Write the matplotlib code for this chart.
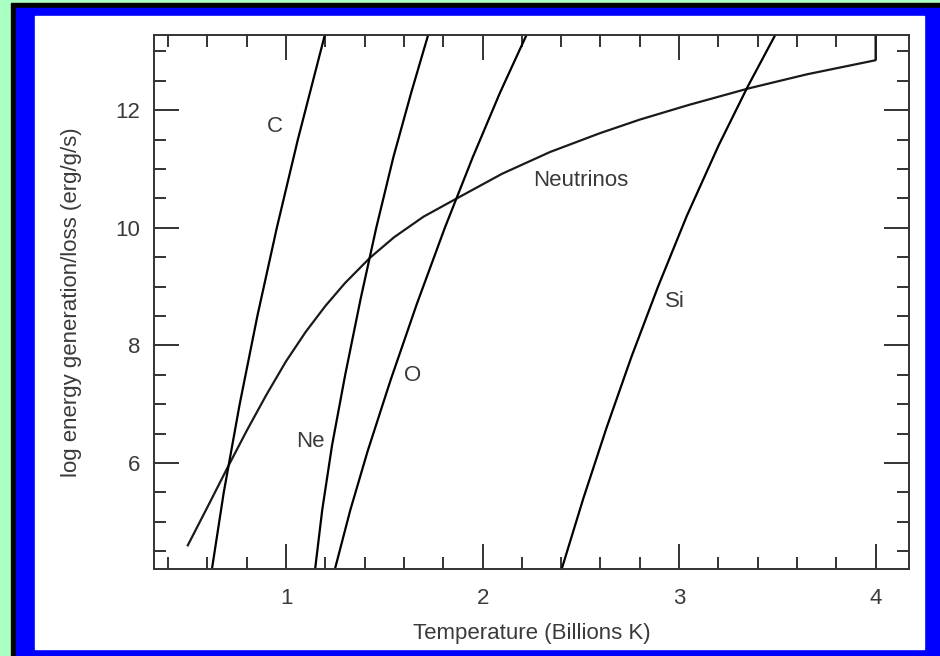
import matplotlib.pyplot as plt
from matplotlib.patches import Rectangle
from matplotlib.ticker import MultipleLocator

# values (T in billions K, log rate)
nu_T = [0.50, 0.60, 0.705, 0.80, 0.90, 1.00, 1.10, 1.20, 1.30, 1.427, 1.55, 1.70, 1.869,
        2.10, 2.344, 2.598, 2.80, 3.05, 3.353, 3.65, 4.00, 4.00]
nu_L = [4.60, 5.25, 5.94, 6.55, 7.16, 7.73, 8.23, 8.67, 9.06, 9.49, 9.84, 10.19, 10.50,
        10.92, 11.29, 11.61, 11.84, 12.09, 12.37, 12.61, 12.85, 13.30]

c_T = [0.623, 0.683, 0.764, 0.854, 0.953, 1.060, 1.198]
c_L = [4.20, 5.50, 7.00, 8.50, 10.00, 11.50, 13.29]

ne_T = [1.148, 1.184, 1.234, 1.301, 1.380, 1.459, 1.546, 1.637, 1.724]
ne_L = [4.20, 5.20, 6.30, 7.50, 8.80, 10.00, 11.20, 12.30, 13.29]

o_T = [1.249, 1.327, 1.415, 1.531, 1.665, 1.808, 1.950, 2.089, 2.225]
o_L = [4.20, 5.20, 6.20, 7.40, 8.70, 10.00, 11.20, 12.30, 13.29]

si_T = [2.403, 2.513, 2.631, 2.757, 2.893, 3.039, 3.201, 3.349, 3.491]
si_L = [4.20, 5.40, 6.60, 7.80, 9.00, 10.20, 11.40, 12.40, 13.29]

labels = ["C", "Ne", "O", "Si", "Neutrinos"]
label_T = [0.944, 1.122, 1.646, 2.98, 2.50]
label_L = [11.73, 6.37, 7.48, 8.74, 10.81]

plt.rcParams['font.family'] = ['Liberation Sans', 'DejaVu Sans']
txt = '#3a3a3a'

W, H = 940, 656
fig = plt.figure(figsize=(9.4, 6.56), dpi=100, facecolor='#aaffc2')

# slide frame: black outline, blue border, white panel
fig.patches.append(Rectangle((11 / W, 0), 1, 1 - 3 / H, transform=fig.transFigure, color='black', zorder=-3))
fig.patches.append(Rectangle((16 / W, 0), 1, 1 - 8 / H, transform=fig.transFigure, color='#0000ff', zorder=-2))
fig.patches.append(Rectangle((35 / W, 1 - 649 / H), (924 - 35) / W, (649 - 16) / H,
                             transform=fig.transFigure, color='white', zorder=-1))

ax = fig.add_axes([154 / W, 1 - 569 / H, (909 - 154) / W, (569 - 35) / H])
ax.set_facecolor('none')

lw = 1.6
ax.plot(nu_T, nu_L, color='#1a1a1a', lw=lw)
for T, L in [(c_T, c_L), (ne_T, ne_L), (o_T, o_L), (si_T, si_L)]:
    ax.plot(T, L, color='black', lw=lw)

for s, x, y in zip(labels, label_T, label_L):
    ax.text(x, y, s, fontsize=16, color=txt, ha='center', va='center')

ax.set_xlim(0.328, 4.170)
ax.set_ylim(4.197, 13.279)

ax.xaxis.set_major_locator(MultipleLocator(1))
ax.xaxis.set_minor_locator(MultipleLocator(0.2))
ax.yaxis.set_major_locator(MultipleLocator(2))
ax.yaxis.set_minor_locator(MultipleLocator(0.5))

ax.tick_params(which='both', direction='in', top=True, right=True, color='#333333', width=1.4)
ax.tick_params(which='major', length=18, labelsize=16, labelcolor=txt)
ax.tick_params(which='minor', length=8.6)
ax.tick_params(axis='x', which='major', pad=14)
ax.tick_params(axis='y', which='major', pad=10)

for sp in ax.spines.values():
    sp.set_color('#333333')
    sp.set_linewidth(1.4)

ax.set_xlabel("Temperature (Billions K)", fontsize=16, color=txt, labelpad=10)
ax.set_ylabel("log energy generation/loss (erg/g/s)", fontsize=16, color=txt, labelpad=24)

fig.savefig("out.png", dpi=100, facecolor=fig.get_facecolor())
